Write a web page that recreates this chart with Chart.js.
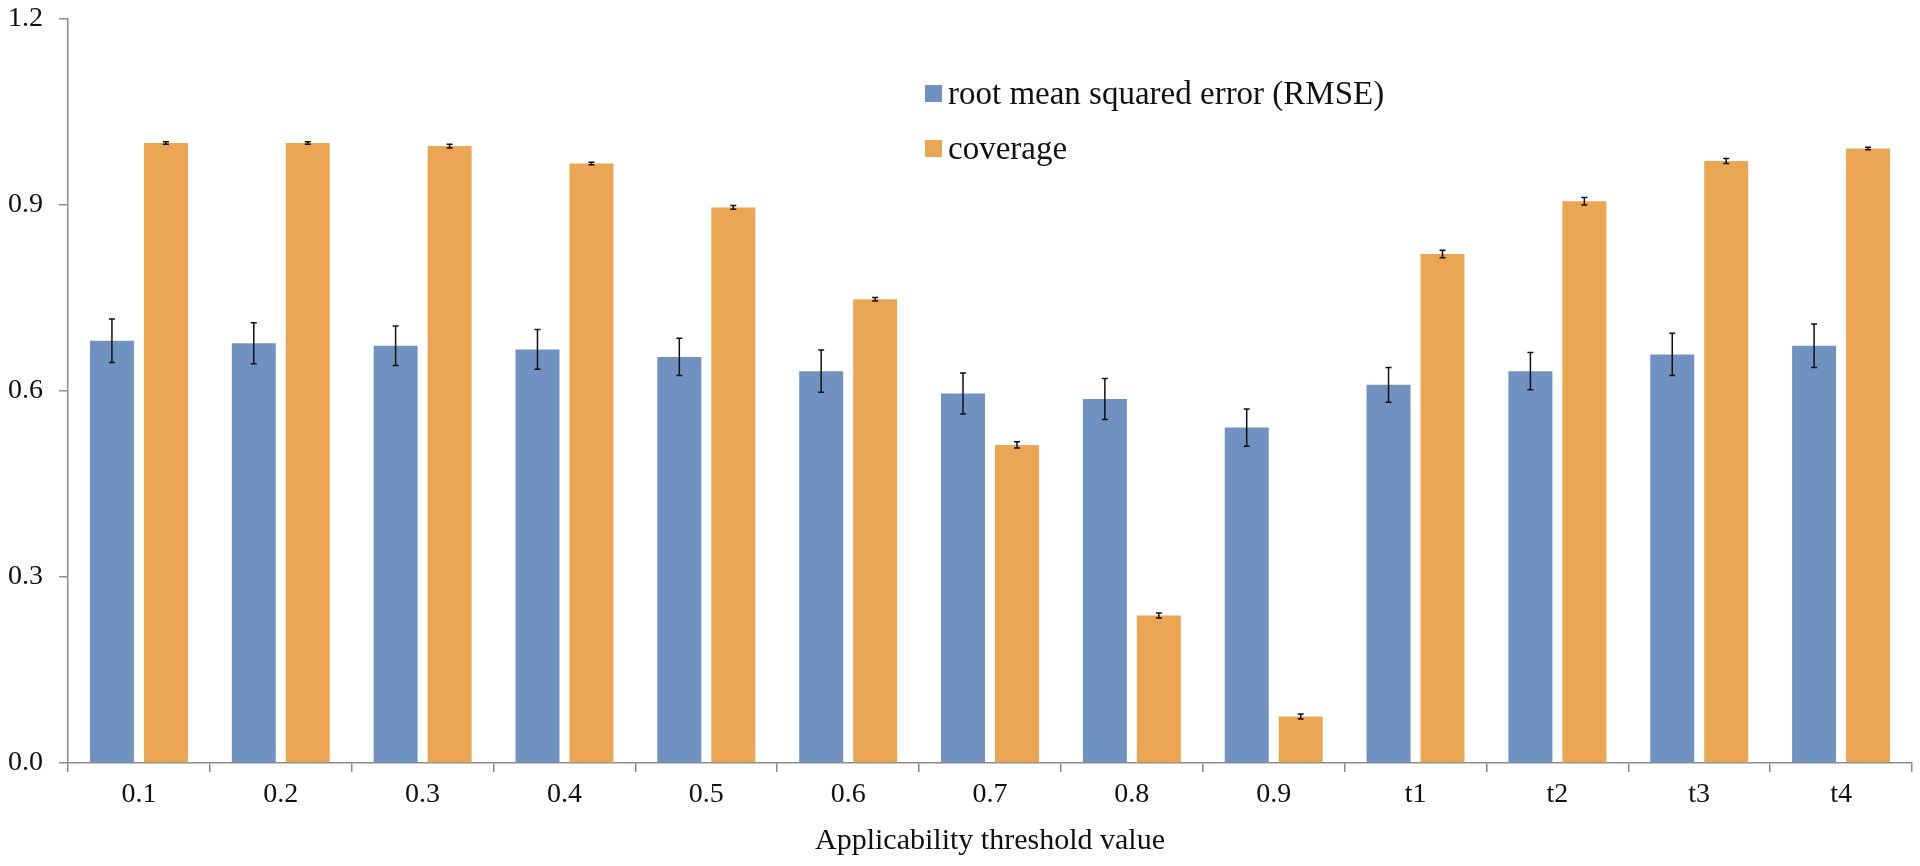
<!DOCTYPE html>
<html>
<head>
<meta charset="utf-8">
<script src="https://cdn.jsdelivr.net/npm/chart.js@4.4.1/dist/chart.umd.min.js"></script>
<style>
  html, body { margin: 0; padding: 0; background: #fff; }
  #wrap { position: relative; width: 1920px; height: 866px; }
  #legend { position: absolute; left: 925px; top: 66px; font-family: "Liberation Serif", serif; font-size: 33px; color: #111; }
  #legend .item { display: flex; align-items: center; height: 55px; }
  #legend .box { width: 17px; height: 17px; margin-right: 6px; }
</style>
</head>
<body>
<div id="wrap">
  <canvas id="chart" width="1920" height="866"></canvas>
  <div id="legend"></div>
</div>
<script>
// data
const categories = ['0.1', '0.2', '0.3', '0.4', '0.5', '0.6', '0.7', '0.8', '0.9', 't1', 't2', 't3', 't4'];
const rmseValues = [0.681, 0.677, 0.673, 0.667, 0.655, 0.632, 0.596, 0.587, 0.541, 0.610, 0.632, 0.659, 0.673];
const rmseErrors = [0.035, 0.033, 0.032, 0.032, 0.030, 0.034, 0.033, 0.033, 0.030, 0.028, 0.030, 0.034, 0.035];
const coverageValues = [1.000, 1.000, 0.995, 0.967, 0.896, 0.748, 0.513, 0.238, 0.075, 0.821, 0.906, 0.971, 0.991];
const coverageErrors = [0.002, 0.002, 0.003, 0.002, 0.003, 0.003, 0.005, 0.004, 0.004, 0.006, 0.006, 0.004, 0.002];
const yTicks = [0, 0.3, 0.6, 0.9, 1.2];

const blue = '#7092c1';
const orange = '#eaa652';
const axisColor = '#8c8c8c';
const serif = '"Liberation Serif", "Times New Roman", serif';

// error bars drawn from each bar's x and the y scale
const errorBars = {
    id: 'errorBars',
    afterDatasetsDraw(chart) {
        var ctx = chart.ctx;
        var yScale = chart.scales.y;
        ctx.save();
        ctx.strokeStyle = '#111';
        ctx.lineWidth = 1.5;
        chart.data.datasets.forEach(function (ds, di) {
            var meta = chart.getDatasetMeta(di);
            meta.data.forEach(function (bar, i) {
                var v = ds.data[i], e = ds.errors[i];
                var yTop = yScale.getPixelForValue(v + e);
                var yBot = yScale.getPixelForValue(v - e);
                ctx.beginPath();
                ctx.moveTo(bar.x, yTop); ctx.lineTo(bar.x, yBot);
                ctx.moveTo(bar.x - 3, yTop); ctx.lineTo(bar.x + 3, yTop);
                ctx.moveTo(bar.x - 3, yBot); ctx.lineTo(bar.x + 3, yBot);
                ctx.stroke();
            });
        });
        ctx.restore();
    }
};

const datasets = [
    { label: 'root mean squared error (RMSE)', data: rmseValues, errors: rmseErrors, backgroundColor: blue },
    { label: 'coverage', data: coverageValues, errors: coverageErrors, backgroundColor: orange }
];

var chart = new Chart(document.getElementById('chart'), {
    type: 'bar',
    data: { labels: categories, datasets: datasets },
    options: {
        responsive: false,
        animation: false,
        categoryPercentage: 0.761,
        barPercentage: 0.815,
        layout: { padding: { top: 19, right: 8, left: 0, bottom: 0 } },
        plugins: { legend: { display: false }, tooltip: { enabled: false } },
        scales: {
            x: {
                grid: { offset: true, drawOnChartArea: false, tickLength: 9, color: axisColor, lineWidth: 1.5 },
                border: { color: axisColor, width: 1.5 },
                ticks: { color: '#111', font: { family: serif, size: 28 }, padding: 6 },
                title: { display: true, text: 'Applicability threshold value', color: '#111', font: { family: serif, size: 30 }, padding: { top: 0, bottom: 7 } },
                afterFit: function (s) { s.height = 103; s.paddingLeft = 0; s.paddingRight = 0; }
            },
            y: {
                min: 0,
                max: 1.2,
                afterBuildTicks: function (s) { s.ticks = yTicks.map(function (v) { return { value: v }; }); },
                grid: { drawOnChartArea: false, tickLength: 9, color: axisColor, lineWidth: 1.5 },
                border: { color: axisColor, width: 1.5 },
                ticks: { color: '#111', font: { family: serif, size: 28 }, padding: 16, callback: function (v) { return v.toFixed(1); } },
                afterFit: function (s) { s.width = 68; s.paddingTop = 0; s.paddingBottom = 0; }
            }
        }
    },
    plugins: [errorBars]
});

// legend as html text
var legend = document.getElementById('legend');
datasets.forEach(function (ds) {
    var item = document.createElement('div');
    item.className = 'item';
    item.innerHTML = '<span class="box" style="background:' + ds.backgroundColor + '"></span><span>' + ds.label + '</span>';
    legend.appendChild(item);
});
</script>
</body>
</html>
